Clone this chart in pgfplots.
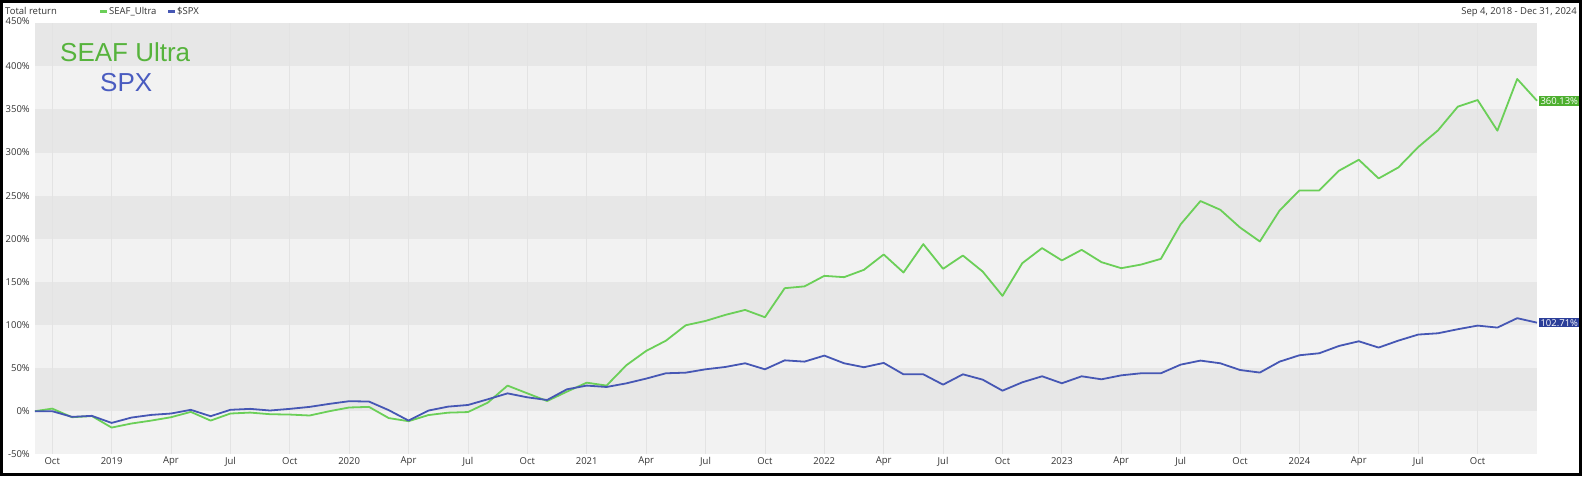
\documentclass[border=0pt]{standalone}
\usepackage{pgfplots}
\pgfplotsset{compat=1.18}
\usepackage{pgfplotstable}
\usepackage{fontspec}
\setmainfont{Open Sans}
\newfontfamily\arialfont{Liberation Sans}

\definecolor{seafline}{HTML}{6BCF58}
\definecolor{spxline}{HTML}{4657B4}
\definecolor{seafbox}{HTML}{4DAF2F}
\definecolor{spxbox}{HTML}{2B3E99}
\definecolor{seaftext}{HTML}{56B33C}
\definecolor{spxtext}{HTML}{4A5CC0}
\definecolor{banddark}{HTML}{E7E7E7}
\definecolor{bandlight}{HTML}{F2F2F2}
\definecolor{labelgrey}{HTML}{333333}

% x = months since 1 Oct 2018 (month-end closes), first row = 4 Sep 2018
\pgfplotstableread{
x      seaf    spx
-0.87  0       0
0      3       0
1      -7      -6.6
2      -5.6    -5.4
3      -19     -13.6
4      -14.3   -7.4
5      -10.9   -4.3
6      -7      -2.7
7      -0.8    1.6
8      -10.9   -5.8
9      -2.7    1.6
10     -1.6    2.7
11     -3.5    0.8
12     -3.9    2.7
13     -5      5
14     0       8.5
15     4.3     11.6
16     5       11.2
17     -8      1.2
18     -11.6   -10.9
19     -4.5    0.7
20     -1.7    5.3
21     -1      7.2
22     9.9     13.8
23     29.7    20.7
24     20.7    16.1
25     11.8    13
26     22.7    25.4
27     33.1    29.7
28     29.7    28.1
29     53.3    32.3
30     69.9    37.8
31     81.8    44
32     99.7    44.7
33     104.7   48.6
34     111.7   51.3
35     117.5   55.6
36     109     48.6
37     142.7   59
38     144.8   57.5
39     157     64.5
40     155.5   55.6
41     164     51
42     181.8   56
43     160.9   42.8
44     193.8   42.8
45     165.2   30.8
46     180.6   42.8
47     162     36.6
48     133.8   23.8
49     171.7   33.5
50     189.2   40.5
51     174.9   32.4
52     187.2   40.5
53     172.9   37
54     165.9   41.6
55     170.1   44
56     176.7   44
57     216.8   54
58     243.8   58.7
59     233.7   55.6
60     213.1   47.8
61     196.9   44.8
62     232.9   57.5
63     256.1   64.9
64     256.1   67.2
65     279     75.7
66     291.7   81.1
67     270     73.8
68     282.8   81.9
69     306.4   88.9
70     325.8   90.4
71     353.3   95.1
72     361     99.3
73     325.4   97
74     385.4   107.9
75     360.13  102.71
}\returns

\begin{document}
\begin{tikzpicture}[x=1pt,y=1pt]
\begin{axis}[
  set layers,
  scale only axis,
  width=1502pt, height=431pt,
  xmin=-0.87, xmax=75,
  ymin=-50, ymax=450,
  axis line style={draw=none},
  major tick length=0pt,
  xtick={0,3,...,72},
  xticklabels={Oct,2019,Apr,Jul,Oct,2020,Apr,Jul,Oct,2021,Apr,Jul,Oct,2022,Apr,Jul,Oct,2023,Apr,Jul,Oct,2024,Apr,Jul,Oct},
  ytick={-50,0,...,450},
  yticklabels={-50\%,0\%,50\%,100\%,150\%,200\%,250\%,300\%,350\%,400\%,\raisebox{5pt}{450\%}},
  xmajorgrids,
  major grid style={draw=black!11, line width=0.8pt},
  ticklabel style={font=\fontsize{9.5}{11}\selectfont, text=labelgrey, inner sep=0pt},
  xticklabel style={anchor=center, yshift=-7pt},
  yticklabel style={anchor=east, xshift=-5pt},
  clip=false,
]
\begin{pgfonlayer}{axis background}
  \fill[bandlight] (axis cs:-0.87,-50) rectangle (axis cs:75,0);
  \fill[banddark]  (axis cs:-0.87,0)   rectangle (axis cs:75,50);
  \fill[bandlight] (axis cs:-0.87,50)  rectangle (axis cs:75,100);
  \fill[banddark]  (axis cs:-0.87,100) rectangle (axis cs:75,150);
  \fill[bandlight] (axis cs:-0.87,150) rectangle (axis cs:75,200);
  \fill[banddark]  (axis cs:-0.87,200) rectangle (axis cs:75,250);
  \fill[bandlight] (axis cs:-0.87,250) rectangle (axis cs:75,300);
  \fill[banddark]  (axis cs:-0.87,300) rectangle (axis cs:75,350);
  \fill[bandlight] (axis cs:-0.87,350) rectangle (axis cs:75,400);
  \fill[banddark]  (axis cs:-0.87,400) rectangle (axis cs:75,450);
\end{pgfonlayer}
\addplot[seafline, line width=1.8pt, line join=round] table[x=x, y=seaf] {\returns};
\addplot[spxline, line width=1.8pt, line join=round] table[x=x, y=spx] {\returns};
\node[fill=seafbox, text=white, anchor=west, inner sep=1.3pt, xshift=2pt,
  font=\fontsize{9.5}{10}\selectfont] at (axis cs:75,360.13) {360.13\%};
\node[fill=spxbox, text=white, anchor=west, inner sep=1.3pt, xshift=2pt,
  font=\fontsize{9.5}{10}\selectfont] at (axis cs:75,102.71) {102.71\%};
\end{axis}

% header
\node[anchor=west, inner sep=0pt, text=labelgrey, font=\fontsize{9.5}{11}\selectfont] at (-30,443) {Total return};
\fill[seafline] (65,441.5) rectangle (72,444.5);
\node[anchor=west, inner sep=0pt, text=labelgrey, font=\fontsize{9.5}{11}\selectfont] at (74,443) {SEAF\_Ultra};
\fill[spxline] (133,441.5) rectangle (140,444.5);
\node[anchor=west, inner sep=0pt, text=labelgrey, font=\fontsize{9.5}{11}\selectfont] at (142,443) {\$SPX};
\node[anchor=east, inner sep=0pt, text=labelgrey, font=\fontsize{9.5}{11}\selectfont] at (1542,442) {Sep 4, 2018 - Dec 31, 2024};

% big series names
\node[anchor=west, inner sep=0pt, text=seaftext, font=\arialfont\fontsize{26}{30}\selectfont] at (25,402) {SEAF Ultra};
\node[anchor=west, inner sep=0pt, text=spxtext, font=\arialfont\fontsize{26}{30}\selectfont] at (65,372) {SPX};

% frame
\draw[black, line width=3pt] (-33.5,-20.5) rectangle (1545.5,452.8);
\path (-35,-24) rectangle (1549,454.3);
\end{tikzpicture}
\end{document}
